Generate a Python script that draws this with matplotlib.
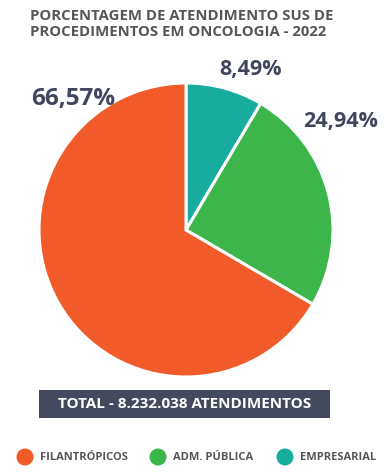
import matplotlib
matplotlib.use("Agg")
import matplotlib.pyplot as plt
from matplotlib.patches import Circle, Rectangle

categories = ["EMPRESARIAL", "ADM. PÚBLICA", "FILANTRÓPICOS"]
values = [8.49, 24.94, 66.57]
labels = ["8,49%", "24,94%", "66,57%"]
colors = ["#17ac9e", "#3cb54a", "#f15a29"]
legend_order = ["FILANTRÓPICOS", "ADM. PÚBLICA", "EMPRESARIAL"]

title = "PORCENTAGEM DE ATENDIMENTO SUS DE\nPROCEDIMENTOS EM ONCOLOGIA - 2022"
total_text = "TOTAL - 8.232.038 ATENDIMENTOS"

W, H = 392, 473
fig = plt.figure(figsize=(W / 100, H / 100), dpi=100)
fig.patch.set_facecolor("white")
FONT = "Open Sans"
dark = "#414660"

# pie
cx, cy, r = 186, 230, 147
ax = fig.add_axes([(cx - r) / W, 1 - (cy + r) / H, 2 * r / W, 2 * r / H])
ax.pie(values, colors=colors, startangle=90, counterclock=False,
       wedgeprops=dict(edgecolor="white", linewidth=2.2))
ax.set_aspect("equal")
ax.set_xlim(-1, 1)
ax.set_ylim(-1, 1)
ax.axis("off")

# overlay axes in pixel coordinates
ov = fig.add_axes([0, 0, 1, 1], zorder=5)
ov.set_xlim(0, W)
ov.set_ylim(H, 0)
ov.axis("off")
ov.patch.set_alpha(0)

ov.text(30, 24, title, ha="left", va="center", fontsize=10.7, fontweight="bold",
        color="#55565a", family=FONT, linespacing=1.1)

label_pos = {"8,49%": (251, 69), "24,94%": (341, 121), "66,57%": (73, 99)}
for lab in labels:
    x, y = label_pos[lab]
    ov.text(x, y, lab, ha="center", va="center", fontsize=15.5 if lab != "66,57%" else 17.5,
            fontweight="bold", color=dark, family=FONT)

ov.add_patch(Rectangle((39, 390), 291, 28, facecolor="#444a5e", edgecolor="none"))
ov.text(185, 404, total_text, ha="center", va="center", fontsize=11,
        fontweight="bold", color="white", family=FONT)

leg_x = [25, 158, 285]
cmap = dict(zip(categories, colors))
for x, name in zip(leg_x, legend_order):
    ov.add_patch(Circle((x, 457), 8.5, facecolor=cmap[name], edgecolor="none"))
    ov.text(x + 15, 457, name, ha="left", va="center", fontsize=8,
            fontweight="bold", color="#55565a", family=FONT)

fig.savefig("out.png", dpi=100, facecolor="white")
